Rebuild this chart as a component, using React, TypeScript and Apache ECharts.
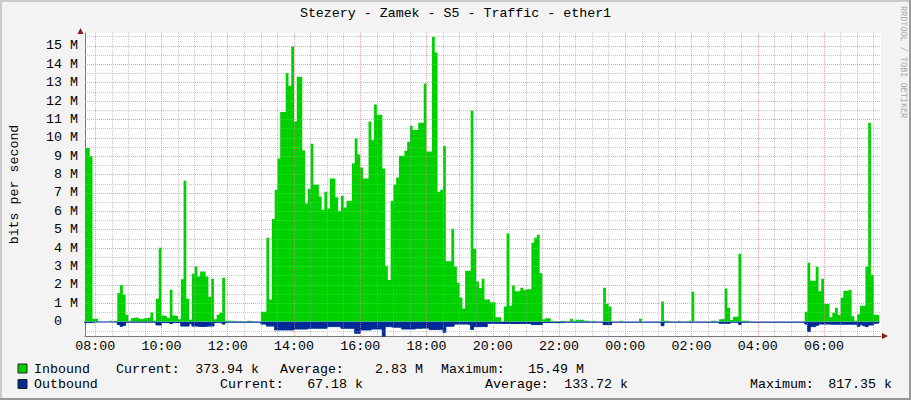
import React, { useEffect, useRef } from 'react';
import * as echarts from 'echarts';

const TITLE = 'Stezery - Zamek - S5 - Traffic - ether1';
const Y_NAME = 'bits per second';
const WATERMARK = 'RRDTOOL / TOBI OETIKER';

// 5-minute bins, first bin starts 07:40 (hours since midnight of day 1)
const FIRST_BIN_HOUR = 7 + 40 / 60;
const BIN_MINUTES = 5;
const X_MIN = 7.691;
const X_MAX = 31.72;
const Y_MIN = -0.78;
const Y_MAX = 15.7;

// Inbound traffic, Mbit/s
const INBOUND_M = [
  9.44,
  9.44, 9.0, 0.16, 0.16, 0, 0, 0, 0, 0.05, 0.03,
  0.02, 1.56, 2.0, 1.47, 0.38, 0.05, 0.2, 0.22, 0.2, 0.15,
  0.18, 0.2, 0.23, 0.5, 0.05, 1.25, 4.02, 0.33, 0.3, 0.2,
  1.74, 0.33, 0.3, 0.13, 2.3, 7.66, 1.25, 0.1, 2.6, 3.0,
  2.45, 2.73, 2.73, 2.45, 1.36, 2.33, 0.13, 0.38, 0.49, 2.39,
  0.05, 0.05, 0.04, 0.02, 0.02, 0.02, 0.02, 0, 0.05, 0.03,
  0, 0, 0, 0.54, 0.54, 4.57, 1.21, 5.58, 7.17, 8.88,
  11.41, 11.41, 13.53, 12.83, 14.96, 10.89, 13.32, 13.32, 9.31, 6.43,
  7.23, 9.67, 7.45, 7.45, 6.81, 6.09, 7.07, 6.16, 7.79, 7.79,
  6.76, 6.0, 6.85, 6.21, 6.58, 6.58, 8.6, 9.96, 9.09, 8.39,
  7.79, 7.79, 10.89, 9.87, 11.81, 11.25, 11.25, 8.33, 3.04, 2.26,
  6.58, 7.45, 7.84, 9.02, 9.02, 9.29, 9.78, 10.65, 10.43, 10.43,
  10.82, 10.82, 12.95, 9.26, 9.26, 15.49, 14.64, 7.07, 7.17, 9.55,
  3.28, 3.28, 5.05, 3.0, 2.12, 1.32, 0.72, 2.77, 2.77, 11.47,
  3.97, 2.19, 1.83, 2.34, 1.2, 1.2, 1.05, 1.05, 0.24, 0.24,
  0, 0.82, 4.8, 0.87, 1.96, 1.65, 1.65, 1.85, 1.72, 1.76,
  1.76, 4.29, 4.57, 4.73, 2.63, 0.13, 0.18, 0.18, 0.02, 0.02,
  0.02, 0.05, 0.04, 0.01, 0.01, 0.16, 0.05, 0.11, 0.11, 0.11,
  0.05, 0.05, 0, 0.05, 0, 0, 0, 1.85, 0.98, 0.82,
  0, 0, 0, 0.05, 0, 0, 0, 0, 0, 0,
  0.16, 0, 0, 0, 0, 0, 0, 0, 1.09, 0.05,
  0.05, 0, 0, 0, 0.05, 0, 0, 0, 0.05, 1.63,
  0, 0, 0, 0, 0, 0, 0.05, 0.05, 0, 0.13,
  0.16, 1.81, 0.76, 0.09, 0.27, 0.27, 3.7, 0.05, 0.05, 0.05,
  0, 0, 0, 0, 0, 0, 0, 0, 0, 0,
  0, 0, 0, 0, 0, 0, 0, 0, 0, 0,
  0.54, 3.21, 2.23, 2.23, 2.99, 1.65, 2.34, 0.96, 0.96, 0.24,
  0.49, 0.76, 0.38, 1.3, 1.68, 1.68, 1.74, 0.29, 0.05, 0.4,
  0.87, 0.87, 2.99, 10.82, 2.55, 0.38, 0.374,
];

// Outbound traffic, Mbit/s (drawn negative)
const OUTBOUND_M = [
  -0.05,
  -0.05, -0.05, -0.02, -0.02, -0.02, -0.02, -0.02, -0.02, -0.02, -0.02,
  -0.02, -0.15, -0.25, -0.2, -0.03, -0.03, -0.03, -0.03, -0.03, -0.03,
  -0.03, -0.03, -0.03, -0.03, -0.03, -0.18, -0.18, -0.05, -0.05, -0.05,
  -0.1, -0.05, -0.05, -0.05, -0.24, -0.24, -0.24, -0.1, -0.24, -0.24,
  -0.26, -0.26, -0.26, -0.24, -0.24, -0.24, -0.05, -0.05, -0.05, -0.13,
  -0.03, -0.03, -0.03, -0.03, -0.03, -0.03, -0.03, -0.03, -0.03, -0.03,
  -0.03, -0.03, -0.03, -0.13, -0.13, -0.24, -0.24, -0.24, -0.45, -0.45,
  -0.45, -0.45, -0.45, -0.45, -0.45, -0.4, -0.4, -0.4, -0.4, -0.4,
  -0.36, -0.36, -0.36, -0.36, -0.36, -0.36, -0.36, -0.27, -0.27, -0.27,
  -0.27, -0.27, -0.36, -0.36, -0.36, -0.36, -0.36, -0.63, -0.63, -0.45,
  -0.45, -0.45, -0.45, -0.4, -0.4, -0.4, -0.4, -0.82, -0.27, -0.27,
  -0.3, -0.3, -0.3, -0.3, -0.4, -0.4, -0.4, -0.4, -0.4, -0.36,
  -0.36, -0.35, -0.35, -0.35, -0.43, -0.43, -0.43, -0.43, -0.4, -0.58,
  -0.25, -0.25, -0.25, -0.13, -0.13, -0.13, -0.13, -0.13, -0.16, -0.42,
  -0.27, -0.27, -0.27, -0.27, -0.27, -0.09, -0.09, -0.09, -0.09, -0.09,
  -0.1, -0.1, -0.1, -0.1, -0.1, -0.1, -0.1, -0.1, -0.1, -0.1,
  -0.1, -0.16, -0.16, -0.16, -0.16, -0.05, -0.05, -0.05, -0.05, -0.05,
  -0.05, -0.05, -0.03, -0.03, -0.03, -0.03, -0.03, -0.03, -0.03, -0.03,
  -0.03, -0.03, -0.03, -0.03, -0.03, -0.03, -0.03, -0.16, -0.16, -0.16,
  -0.03, -0.03, -0.03, -0.03, -0.03, -0.03, -0.03, -0.03, -0.03, -0.03,
  -0.03, -0.03, -0.03, -0.03, -0.03, -0.03, -0.03, -0.03, -0.22, -0.03,
  -0.03, -0.03, -0.03, -0.03, -0.03, -0.03, -0.03, -0.03, -0.03, -0.03,
  -0.03, -0.03, -0.03, -0.03, -0.03, -0.03, -0.03, -0.03, -0.03, -0.09,
  -0.09, -0.09, -0.09, -0.03, -0.03, -0.03, -0.15, -0.03, -0.03, -0.03,
  -0.03, -0.03, -0.03, -0.03, -0.03, -0.03, -0.03, -0.03, -0.03, -0.03,
  -0.03, -0.03, -0.03, -0.03, -0.03, -0.03, -0.03, -0.03, -0.03, -0.03,
  -0.13, -0.54, -0.27, -0.27, -0.2, -0.13, -0.13, -0.13, -0.13, -0.14,
  -0.14, -0.14, -0.14, -0.14, -0.14, -0.14, -0.14, -0.14, -0.14, -0.25,
  -0.16, -0.22, -0.27, -0.18, -0.18, -0.09, -0.067,
];

const X_LABEL_HOURS = [8, 10, 12, 14, 16, 18, 20, 22, 24, 26, 28, 30];
const Y_LABEL_VALUES = [0, 1, 2, 3, 4, 5, 6, 7, 8, 9, 10, 11, 12, 13, 14, 15];
const X_MINOR_STEP = 0.5;
const Y_MINOR_STEP = 0.5;

const LEGEND = [
  { name: 'Inbound', color: '#00CF00', current: '373.94 k', average: '2.83 M', maximum: '15.49 M' },
  { name: 'Outbound', color: '#002A97', current: '67.18 k', average: '133.72 k', maximum: '817.35 k' },
];

const FONT = "'Liberation Mono', 'DejaVu Sans Mono', monospace";
const FS = 13.3;
const MAJOR_COLOR = 'rgba(235, 130, 130, 0.75)';
const MINOR_COLOR = 'rgba(160, 160, 160, 0.6)';
const AXIS_COLOR = '#777777';
const ARROW_COLOR = '#8B1A1A';

const binHour = (i: number) => FIRST_BIN_HOUR + (i * BIN_MINUTES) / 60;

function buildStepData(values: number[]) {
  const d: [number, number][] = values.map((v, i) => [binHour(i), v]);
  d.push([binHour(values.length), values[values.length - 1]]);
  return d;
}

function gridLines() {
  const items: any[] = [];
  const major = { color: MAJOR_COLOR, type: [1, 1], width: 1 };
  const minor = { color: MINOR_COLOR, type: [1, 1], width: 1 };
  for (let v = Math.ceil(Y_MIN / Y_MINOR_STEP) * Y_MINOR_STEP; v <= Y_MAX; v += Y_MINOR_STEP) {
    const r = Math.round(v * 10) / 10;
    if (Y_LABEL_VALUES.includes(r)) continue;
    items.push({ yAxis: r, lineStyle: minor });
  }
  for (let v = Math.ceil(X_MIN / X_MINOR_STEP) * X_MINOR_STEP; v < X_MAX; v += X_MINOR_STEP) {
    if (X_LABEL_HOURS.includes(v) || v - X_MIN < 0.2) continue;
    items.push({ xAxis: v, lineStyle: minor });
  }
  Y_LABEL_VALUES.forEach((v) => items.push({ yAxis: v, lineStyle: major }));
  X_LABEL_HOURS.forEach((v) => items.push({ xAxis: v, lineStyle: major }));
  return items;
}

function txt(text: string, x: number, y: number, align: string, extra: any = {}) {
  return {
    type: 'text',
    x,
    y,
    silent: true,
    style: {
      text,
      fill: '#000',
      font: `${FS}px ${FONT}`,
      align,
      verticalAlign: 'middle',
      textAlign: align,
      textVerticalAlign: 'middle',
      ...extra,
    },
  };
}

function legendGraphics() {
  const rowsY = [369, 384.5];
  const cols = [
    { cur: 116, curV: 259, avg: 280, avgV: 423, max: 441, maxV: 584 },
    { cur: 220, curV: 363, avg: 485, avgV: 628, max: 750, maxV: 892 },
  ];
  const els: any[] = [];
  LEGEND.forEach((row, i) => {
    const y = rowsY[i];
    const c = cols[i];
    els.push({
      type: 'rect',
      shape: { x: 18, y: y - 5, width: 9, height: 9 },
      style: { fill: row.color, stroke: '#222', lineWidth: 1 },
      silent: true,
    });
    els.push(txt(row.name, 34, y, 'left'));
    els.push(txt('Current:', c.cur, y, 'left'));
    els.push(txt(row.current, c.curV, y, 'right'));
    els.push(txt('Average:', c.avg, y, 'left'));
    els.push(txt(row.average, c.avgV, y, 'right'));
    els.push(txt('Maximum:', c.max, y, 'left'));
    els.push(txt(row.maximum, c.maxV, y, 'right'));
  });
  return els;
}

export default function App() {
  const ref = useRef<HTMLDivElement>(null);

  useEffect(() => {
    if (!ref.current) return;
    const chart = echarts.init(ref.current, undefined, { renderer: 'svg' });
    const option: any = {
      animation: false,
      backgroundColor: '#F3F3F3',
      title: {
        text: TITLE,
        left: 'center',
        top: 7,
        padding: 0,
        textStyle: { fontFamily: FONT, fontSize: FS, fontWeight: 'normal', color: '#000' },
      },
      grid: {
        left: 80,
        right: 30,
        top: 33,
        bottom: 64,
        show: true,
        backgroundColor: '#FFFFFF',
        borderWidth: 0,
      },
      xAxis: {
        type: 'value',
        min: X_MIN,
        max: X_MAX,
        axisLine: { show: true, onZero: false, lineStyle: { color: AXIS_COLOR, width: 1 } },
        axisTick: { show: false },
        splitLine: { show: false },
        axisLabel: {
          customValues: X_LABEL_HOURS,
          formatter: (v: number) => String(Math.round(v) % 24).padStart(2, '0') + ':00',
          fontFamily: FONT,
          fontSize: FS,
          color: '#000',
          margin: 4,
        },
      },
      yAxis: {
        type: 'value',
        min: Y_MIN,
        max: Y_MAX,
        name: Y_NAME,
        nameLocation: 'middle',
        nameGap: 64,
        nameTextStyle: { fontFamily: FONT, fontSize: FS, color: '#000' },
        axisLine: { show: true, lineStyle: { color: AXIS_COLOR, width: 1 } },
        axisTick: { show: false },
        splitLine: { show: false },
        axisLabel: {
          customValues: Y_LABEL_VALUES,
          formatter: (v: number) => (v === 0 ? '0\u00a0\u00a0' : `${v} M`),
          fontFamily: FONT,
          fontSize: FS,
          color: '#000',
          margin: 7,
        },
      },
      series: [
        {
          name: 'grid',
          type: 'line',
          data: [],
          z: 1,
          silent: true,
          markLine: {
            silent: true,
            symbol: ['none', 'none'],
            label: { show: false },
            emphasis: { disabled: true },
            animation: false,
            data: gridLines(),
          },
        },
        {
          name: 'Inbound',
          type: 'line',
          step: 'end',
          data: buildStepData(INBOUND_M),
          symbol: 'none',
          z: 3,
          lineStyle: { width: 0, color: '#00CF00' },
          areaStyle: { color: '#00CF00', opacity: 1 },
          emphasis: { disabled: true },
        },
        {
          name: 'Outbound',
          type: 'line',
          step: 'end',
          data: buildStepData(OUTBOUND_M),
          symbol: 'none',
          z: 4,
          lineStyle: { width: 1, color: '#002A97' },
          areaStyle: { color: '#002A97', opacity: 1 },
          emphasis: { disabled: true },
        },
      ],
      graphic: [
        { type: 'rect', shape: { x: 0, y: 0, width: 911, height: 2 }, style: { fill: '#CBCBCB' }, silent: true },
        { type: 'rect', shape: { x: 0, y: 0, width: 2, height: 400 }, style: { fill: '#CBCBCB' }, silent: true },
        { type: 'rect', shape: { x: 909, y: 0, width: 2, height: 400 }, style: { fill: '#999999' }, silent: true },
        { type: 'rect', shape: { x: 0, y: 398, width: 911, height: 2 }, style: { fill: '#999999' }, silent: true },
        {
          type: 'polygon',
          shape: { points: [[80.5, 28], [77.5, 34], [83.5, 34]] },
          style: { fill: ARROW_COLOR },
          silent: true,
        },
        {
          type: 'polygon',
          shape: { points: [[888, 336], [882, 333], [882, 339]] },
          style: { fill: ARROW_COLOR },
          silent: true,
        },
        {
          type: 'text',
          x: 903,
          y: 6,
          rotation: -Math.PI / 2,
          silent: true,
          style: {
            text: WATERMARK,
            fill: '#A8A8A8',
            font: `8.5px ${FONT}`,
            align: 'left',
            verticalAlign: 'middle',
            textAlign: 'left',
            textVerticalAlign: 'middle',
          },
        },
        ...legendGraphics(),
      ],
    };
    chart.setOption(option);
    return () => chart.dispose();
  }, []);

  return (
    <div
      ref={ref}
      style={{ position: 'absolute', left: 0, top: 0, width: 911, height: 400 }}
    />
  );
}
